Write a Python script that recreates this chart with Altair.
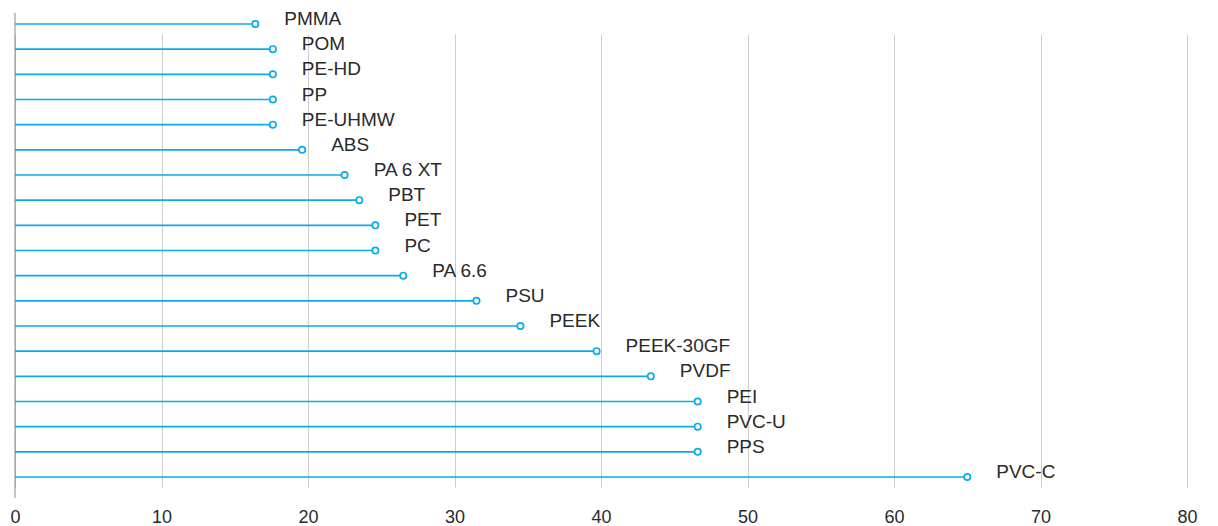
import altair as alt
import pandas as pd

materials = ["PMMA", "POM", "PE-HD", "PP", "PE-UHMW", "ABS", "PA 6 XT", "PBT", "PET", "PC",
             "PA 6.6", "PSU", "PEEK", "PEEK-30GF", "PVDF", "PEI", "PVC-U", "PPS", "PVC-C"]
values = [16.4, 17.6, 17.6, 17.6, 17.6, 19.6, 22.5, 23.5, 24.6, 24.6,
          26.5, 31.5, 34.5, 39.7, 43.4, 46.6, 46.6, 46.6, 65.0]
x_ticks = [0, 10, 20, 30, 40, 50, 60, 70, 80]

df = pd.DataFrame({"material": materials, "value": values, "zero": [0] * len(values)})

BLUE = "#08acec"
FONT = "Liberation Sans"

x = alt.X("value:Q", scale=alt.Scale(domain=[0, 80], nice=False),
          axis=alt.Axis(values=x_ticks, title=None, grid=True, gridColor="#cccccc",
                        gridWidth=1, domain=False, ticks=False, labelPadding=10,
                        labelFlush=False,
                        labelFontSize=18, labelColor="#2a2a2a", labelFont=FONT))
y = alt.Y("material:N", sort=materials,
          scale=alt.Scale(type="point", range=[11, 464], padding=0),
          axis=None)

base = alt.Chart(df)

rules = base.mark_rule(color=BLUE, strokeWidth=1.6).encode(x=x, x2="zero:Q", y=y)
zero_line = alt.Chart(pd.DataFrame({"z": [0]})).mark_rule(color="#888888", strokeWidth=1).encode(
    x=alt.X("z:Q"), y=alt.value(0), y2=alt.value(485))
points = base.mark_point(shape="circle", filled=True, fill="white", stroke=BLUE,
                         strokeWidth=1.7, size=40, opacity=1).encode(x=x, y=y)
labels = base.mark_text(align="left", baseline="middle", dx=29, dy=-5, fontSize=19,
                        font=FONT, color="#2a2a2a").encode(x=x, y=y, text="material:N")

chart = alt.layer(zero_line, rules, points, labels).properties(
    width=1172, height=485,
    padding={"left": 1, "top": 2, "right": 0, "bottom": 0},
).configure_view(stroke=None)

chart.save("out.html", embed_options={"renderer": "svg", "actions": False})
